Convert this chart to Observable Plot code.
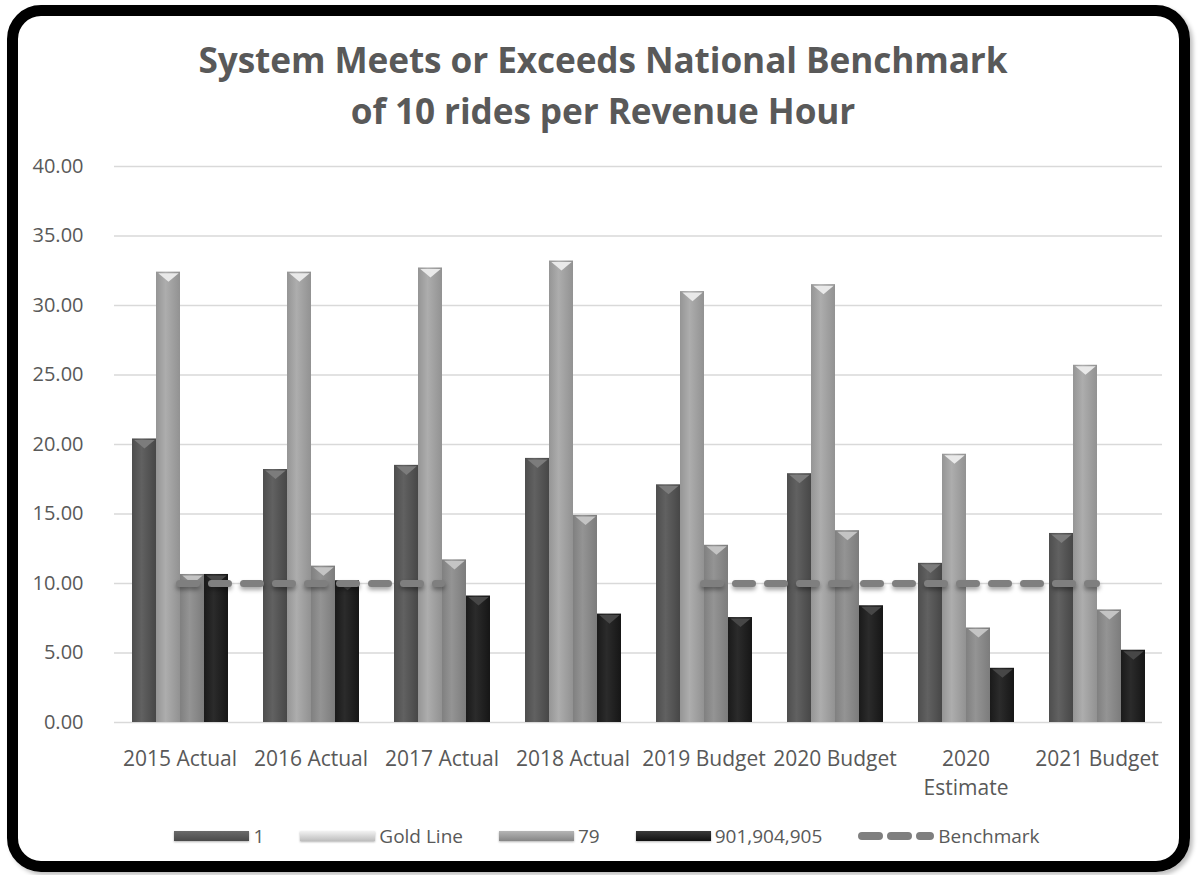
<!DOCTYPE html>
<html>
<head>
<meta charset="utf-8">
<script src="https://cdn.jsdelivr.net/npm/d3@7"></script>
<script src="https://cdn.jsdelivr.net/npm/@observablehq/plot@0.6"></script>
<style>
  html, body { margin: 0; padding: 0; background: #fff; }
  body { width: 1198px; height: 875px; position: relative; overflow: hidden; font-family: "Open Sans", sans-serif; }
  #frame { position: absolute; left: 7px; top: 5px; width: 1183px; height: 867px; box-sizing: border-box;
           border: 11px solid #000; border-radius: 34px; box-shadow: 3px 3px 4px rgba(0,0,0,0.25); }
  #title { position: absolute; left: 4px; top: 34px; width: 1198px; text-align: center; font-weight: 700;
           font-size: 35.2px; line-height: 51px; color: #595959; letter-spacing: -0.1px; }
  #chart, #bench { position: absolute; left: 0; top: 150px; }
  #bench g[aria-label="line"] { filter: drop-shadow(0px 3px 2px rgba(0,0,0,0.35)); }
  #legend { position: absolute; left: 8px; top: 822px; width: 1198px; height: 28px; display: flex;
            justify-content: center; align-items: center; font-size: 19px; color: #595959; }
  .item { display: flex; align-items: center; margin: 0 18px; }
  .sw { width: 75px; height: 10px; margin-right: 4px; box-shadow: 0 1px 2px rgba(0,0,0,0.3); }
</style>
</head>
<body>
<svg width="0" height="0" style="position:absolute">
  <defs>
    <linearGradient id="g1" x1="0" x2="1" y1="0" y2="0">
      <stop offset="0" stop-color="#4e4e4e"/><stop offset="0.4" stop-color="#616161"/><stop offset="1" stop-color="#474747"/>
    </linearGradient>
    <linearGradient id="g2" x1="0" x2="1" y1="0" y2="0">
      <stop offset="0" stop-color="#959595"/><stop offset="0.4" stop-color="#adadad"/><stop offset="1" stop-color="#929292"/>
    </linearGradient>
    <linearGradient id="g3" x1="0" x2="1" y1="0" y2="0">
      <stop offset="0" stop-color="#808080"/><stop offset="0.4" stop-color="#949494"/><stop offset="1" stop-color="#7c7c7c"/>
    </linearGradient>
    <linearGradient id="g4" x1="0" x2="1" y1="0" y2="0">
      <stop offset="0" stop-color="#1a1a1a"/><stop offset="0.4" stop-color="#2b2b2b"/><stop offset="1" stop-color="#161616"/>
    </linearGradient>
  </defs>
</svg>
<div id="frame"></div>
<div id="title">System Meets or Exceeds National Benchmark<br>of 10 rides per Revenue Hour</div>
<div id="chart"></div>
<div id="bench"></div>
<div id="legend"></div>
<script>
// ---- data ----
const categories = ["2015 Actual", "2016 Actual", "2017 Actual", "2018 Actual", "2019 Budget", "2020 Budget", "2020 Estimate", "2021 Budget"];
const categoryLabels = ["2015 Actual", "2016 Actual", "2017 Actual", "2018 Actual", "2019 Budget", "2020 Budget", "2020\nEstimate", "2021 Budget"];
const seriesNames = ["1", "Gold Line", "79", "901,904,905"];
const route1    = [20.4, 18.2, 18.5, 19.0, 17.1, 17.9, 11.45, 13.6];
const goldLine  = [32.4, 32.4, 32.7, 33.2, 31.0, 31.5, 19.3, 25.7];
const route79   = [10.65, 11.25, 11.7, 14.9, 12.75, 13.8, 6.8, 8.1];
const route901  = [10.65, 10.2, 9.1, 7.8, 7.55, 8.4, 3.9, 5.2];
const benchmark = [10, 10, 10, null, 10, 10, 10, 10];
const benchmarkName = "Benchmark";
const yTicks = [0, 5, 10, 15, 20, 25, 30, 35, 40];

// ---- styles ----
const barFills = ["url(#g1)", "url(#g2)", "url(#g3)", "url(#g4)"];
const bevelFills = ["#7c7c7c", "#e9e9e9", "#c4c4c4", "#474747"];
const swatchCss = [
  "linear-gradient(#6a6a6a,#4a4a4a)", "linear-gradient(#f2f2f2,#bdbdbd)",
  "linear-gradient(#b5b5b5,#868686)", "linear-gradient(#3a3a3a,#111)"
];

const seriesValues = [route1, goldLine, route79, route901];
const data = categories.flatMap((c, i) =>
  seriesNames.map((s, j) => ({category: c, series: s, value: seriesValues[j][i]})));
const benchData = categories.map((c, i) => ({category: c, value: benchmark[i]}));

const W = 1198, H = 672, ML = 112, MR = 35, MT = 16, MB = 100;

// flat inverted-triangle bevel symbol
const bevel = {
  draw(ctx, size) {
    const w = Math.sqrt(size);
    ctx.moveTo(-w / 2, 0); ctx.lineTo(w / 2, 0); ctx.lineTo(0, w * 0.42); ctx.closePath();
  }
};

const chart = Plot.plot({
  width: W, height: H, marginLeft: ML, marginRight: MR, marginTop: MT, marginBottom: MB,
  style: {fontFamily: "Open Sans", fontSize: "20px", color: "#595959", background: "transparent"},
  fx: {domain: categories, paddingInner: 0, paddingOuter: 0, label: null},
  x: {domain: seriesNames, paddingInner: 0, paddingOuter: 0.68, axis: null},
  y: {domain: [0, 40], label: null},
  color: {domain: seriesNames, range: barFills},
  marks: [
    Plot.ruleY(yTicks, {stroke: "#d9d9d9", strokeWidth: 1.4}),
    Plot.barY(data, {fx: "category", x: "series", y: "value", fill: "series"}),
    ...seriesNames.map((s, j) => Plot.dot(data.filter(d => d.series === s), {
      fx: "category", x: "series", y: "value", symbol: bevel, r: 11.5, fill: bevelFills[j], dy: 1
    })),
    Plot.axisY({ticks: yTicks, tickSize: 0, tickPadding: 31, tickFormat: d => d.toFixed(2), fontSize: 20, fill: "#595959", label: null}),
    Plot.axisFx({anchor: "bottom", tickSize: 0, tickPadding: 23, fontSize: 21, fill: "#595959", lineHeight: 1.38, label: null,
      tickFormat: d => categoryLabels[categories.indexOf(d)]})
  ]
});
document.getElementById("chart").appendChild(chart);

const bench = Plot.plot({
  width: W, height: H, marginLeft: ML, marginRight: MR, marginTop: MT, marginBottom: MB,
  style: {background: "transparent"},
  x: {type: "point", domain: categories, padding: 0.5, axis: null},
  y: {domain: [0, 40], axis: null},
  marks: [
    Plot.line(benchData, {x: "category", y: "value", stroke: "#7f7f7f", strokeWidth: 7,
      strokeDasharray: "17,15", strokeLinecap: "round"})
  ]
});
document.getElementById("bench").appendChild(bench);

// ---- legend ----
const legend = document.getElementById("legend");
seriesNames.forEach((s, j) => {
  const it = document.createElement("div"); it.className = "item";
  const sw = document.createElement("div"); sw.className = "sw"; sw.style.background = swatchCss[j];
  const tx = document.createElement("span"); tx.textContent = s;
  it.appendChild(sw); it.appendChild(tx); legend.appendChild(it);
});
{
  const it = document.createElement("div"); it.className = "item";
  it.innerHTML = '<svg width="76" height="12" style="margin-right:4px"><line x1="4" x2="72" y1="6" y2="6" stroke="#7f7f7f" stroke-width="8" stroke-linecap="round" stroke-dasharray="17,12"/></svg>';
  const tx = document.createElement("span"); tx.textContent = benchmarkName;
  it.appendChild(tx); legend.appendChild(it);
}
</script>
</body>
</html>
